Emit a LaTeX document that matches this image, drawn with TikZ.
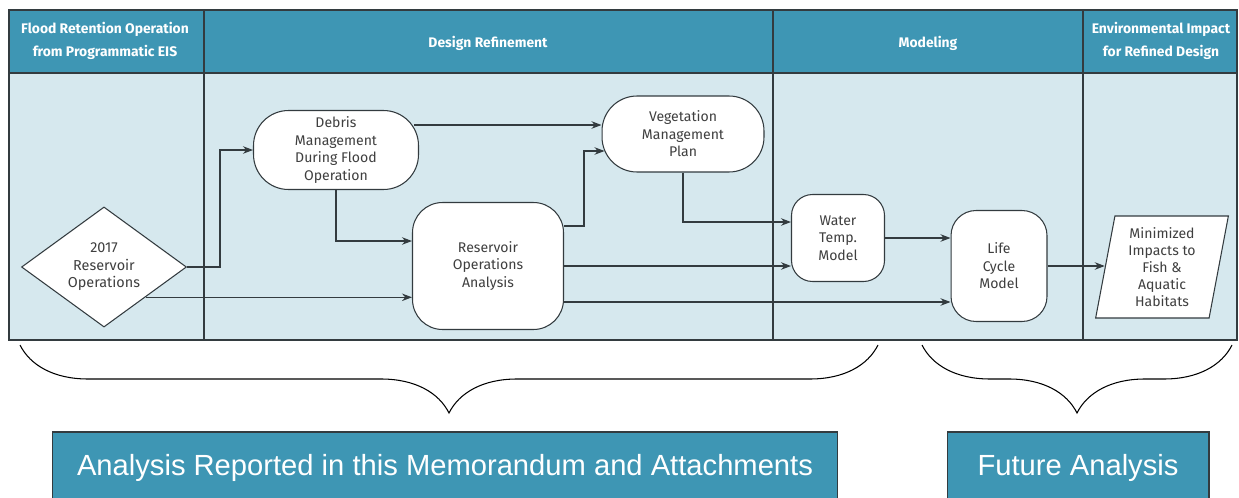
\documentclass[tikz,border=0pt]{standalone}
\usepackage{fontspec}
\setmainfont{Fira Sans}
\newfontfamily\boxfont{Liberation Sans}
\usepackage{xcolor}
\usepackage{tikz}
\usetikzlibrary{arrows.meta, positioning, shapes.geometric, decorations.pathreplacing}

\definecolor{headblue}{HTML}{3E96B4}
\definecolor{laneblue}{HTML}{D6E8EE}
\definecolor{linegray}{HTML}{333B3F}
\definecolor{textgray}{HTML}{3F3F3F}

\begin{document}
\begin{tikzpicture}[
    x=0.02cm, y=-0.02cm,
    lane/.style={draw=linegray, line width=0.8pt},
    header/.style={align=center, text=white, font=\fontsize{7.9}{13}\selectfont\bfseries},
    block/.style={rectangle, draw=linegray, fill=white, line width=0.6pt, align=center, text=textgray, font=\fontsize{8}{10}\selectfont, inner sep=1pt},
    decision/.style={diamond, draw=linegray, fill=white, line width=0.6pt, align=center, text=textgray, font=\fontsize{8.2}{10}\selectfont, inner sep=0pt, minimum width=3.3cm, minimum height=2.22cm},
    outcome/.style={trapezium, trapezium left angle=80, trapezium right angle=100, trapezium stretches=true, draw=linegray, fill=white, line width=0.6pt, align=center, text=textgray, font=\fontsize{8}{9.6}\selectfont, inner sep=1pt, minimum width=2.66cm, minimum height=2.04cm},
    arrow/.style={-{Stealth[length=2mm]}, draw=linegray, line width=0.6pt},
    brace/.style={decorate, decoration={brace, amplitude=1.36cm}, draw=black, line width=0.6pt},
    result/.style={rectangle, draw=linegray, fill=headblue, text=white, line width=0.6pt, minimum height=1.44cm, font=\boxfont\fontsize{16.6}{19}\selectfont},
]
    \useasboundingbox (0,0) rectangle (1239,497);

    % swimlanes
    \fill[laneblue] (9,73) rectangle (1237,340);
    \fill[headblue] (9,10) rectangle (1237,73);
    \draw[lane] (9,10) rectangle (1237,340);
    \draw[lane] (9,73) -- (1237,73);
    \foreach \x in {204,773,1083}
        \draw[lane] (\x,10) -- (\x,340);

    \node[header] (hFlood) at (105,41) {Flood Retention Operation\\from Programmatic EIS};
    \node[header] (hDesign) at (488,43) {Design Refinement};
    \node[header] (hModel) at (928,43) {Modeling};
    \node[header] (hEnv) at (1161,41) {Environmental Impact\\for Refined Design};

    % process nodes
    \node[decision] (ops2017) at (104,267) {2017\\Reservoir\\Operations};
    \node[block, minimum width=3.3cm, minimum height=1.58cm, rounded corners=0.7cm] (debris) at (336,150) {Debris\\Management\\During Flood\\Operation};
    \node[block, minimum width=3.02cm, minimum height=2.54cm, rounded corners=0.6cm] (resops) at (488,266) {Reservoir\\Operations\\Analysis};
    \node[block, minimum width=3.24cm, minimum height=1.52cm, rounded corners=0.7cm] (veg) at (683,134) {Vegetation\\Management\\Plan};
    \node[block, minimum width=1.86cm, minimum height=1.74cm, rounded corners=0.42cm] (wtemp) at (838,238) {Water\\Temp.\\Model};
    \node[block, minimum width=1.92cm, minimum height=2.22cm, rounded corners=0.5cm] (lifecyc) at (999,266) {Life\\Cycle\\Model};
    \node[outcome] (impacts) at (1162,267) {Minimized\\Impacts to\\Fish \&\\Aquatic\\Habitats};

    \draw[arrow] (ops2017.east) -- ++(33,0) |- (debris.west);
    \draw[arrow] (debris.south) |- ([yshift=5mm]resops.west);
    \draw[arrow] (ops2017.south east) -- (ops2017.south east -| resops.west);
    \draw[arrow] ([yshift=5mm,xshift=-1mm]debris.east) -- ([yshift=5mm]debris.east -| veg.west);
    \draw[arrow] ([yshift=8mm]resops.east) -- ++(20,0) |- ([yshift=-3.4mm,xshift=0.6mm]veg.west);
    \draw[arrow] (veg.south) |- ([yshift=3.2mm]wtemp.west);
    \draw[arrow] (resops.east) -- (resops.east -| wtemp.west);
    \draw[arrow] ([yshift=-7.2mm]resops.east) -- ([yshift=-7.2mm]resops.east -| lifecyc.west);
    \draw[arrow] (wtemp.east) -- (wtemp.east -| lifecyc.west);
    \draw[arrow] (lifecyc.east) -- (lifecyc.east -| impacts.west);

    % scope braces
    \coordinate (repL) at (20,345);
    \coordinate (repR) at (878,345);
    \coordinate (futL) at (922,345);
    \coordinate (futR) at (1232,345);
    \draw[brace] (repR) -- (repL);
    \draw[brace] (futR) -- (futL);

    \node[result, minimum width=15.72cm] (repBox) at (445,468) {Analysis Reported in this Memorandum and Attachments};
    \node[result, minimum width=5.24cm] (futBox) at (1078,468) {Future Analysis};
\end{tikzpicture}
\end{document}
